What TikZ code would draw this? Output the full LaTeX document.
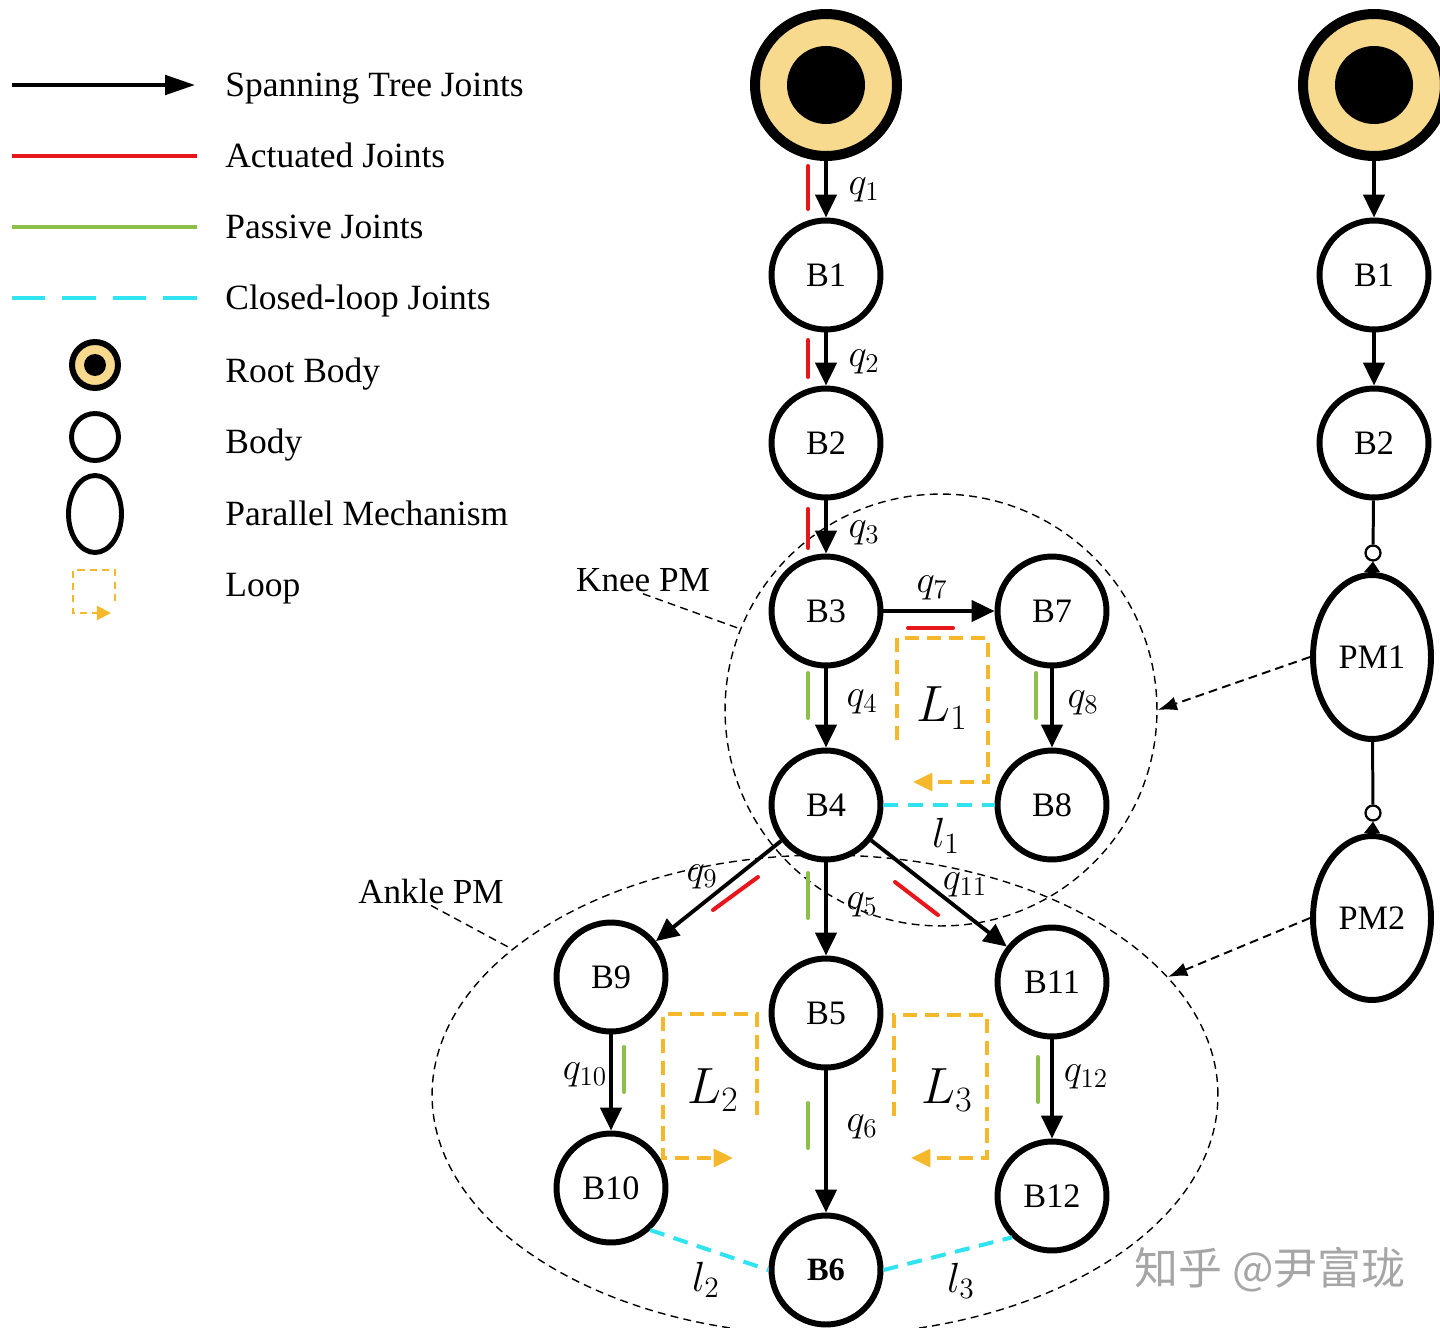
\RequirePackage{fix-cm}
\documentclass[tikz,border=0pt]{standalone}
\usepackage{fontspec}
\setmainfont{Liberation Serif}
\newfontfamily\cjk{Noto Sans CJK SC}
\usetikzlibrary{arrows.meta,shapes.geometric,calc}
\definecolor{rootYellow}{HTML}{F8DA8E}
\definecolor{actRed}{HTML}{E8151B}
\definecolor{pasGreen}{HTML}{8CC04B}
\definecolor{clCyan}{HTML}{2FE3F0}
\definecolor{loopOrange}{HTML}{F5B82A}

\begin{document}
\begin{tikzpicture}[x=0.02cm, y=-0.02cm,
     body/.style={circle, draw, line width=3.4pt, fill=white, minimum size=2.18cm, inner sep=0pt,
                  font=\fontsize{19.5}{22}\selectfont},
     rootbody/.style={circle, draw, line width=5.7pt, fill=rootYellow, minimum size=2.84cm, inner sep=0pt,
                  path picture={\fill[black] (path picture bounding box.center) circle (0.78cm);}},
     pmbody/.style={ellipse, draw, line width=3.4pt, fill=white, minimum width=2.36cm, minimum height=3.28cm,
                  inner sep=0pt, font=\fontsize{19.5}{22}\selectfont},
     jnode/.style={circle, draw, line width=1.3pt, fill=white, minimum size=0.3cm, inner sep=0pt},
     arr/.style={-{Triangle[length=13pt,width=12pt]}, line width=2.2pt},
     link/.style={line width=1.7pt},
     act/.style={draw=actRed, line width=2.3pt, line cap=round},
     pas/.style={draw=pasGreen, line width=2.3pt, line cap=round},
     clj/.style={draw=clCyan, line width=2.3pt, dash pattern=on 8.5pt off 5.5pt},
     loopl/.style={draw=loopOrange, line width=2.3pt, dash pattern=on 8pt off 4.5pt,
                  -{Triangle[length=11pt,width=10pt]}},
     zone/.style={draw, line width=0.8pt, dash pattern=on 4.5pt off 3pt},
     leader/.style={line width=0.8pt, dash pattern=on 4.5pt off 3pt},
     pmarr/.style={line width=1.1pt, dash pattern=on 5pt off 3pt, -{Latex[length=11pt,width=8pt]}},
     jl/.style={font=\fontsize{22}{25}\selectfont, inner sep=1pt},
     ll/.style={font=\fontsize{24}{27}\selectfont, inner sep=1pt},
     bigl/.style={font=\fontsize{29}{32}\selectfont, inner sep=1pt},
     zlbl/.style={font=\fontsize{20}{23}\selectfont, inner sep=1pt},
     legtxt/.style={anchor=base west, font=\fontsize{20.2}{23}\selectfont, inner sep=0pt},
     legarr/.style={-{Triangle[length=17pt,width=11pt]}, line width=2.2pt},
     legroot/.style={circle, draw, line width=3.4pt, fill=rootYellow, minimum size=0.92cm, inner sep=0pt,
                  path picture={\fill[black] (path picture bounding box.center) circle (0.22cm);}},
     legbody/.style={circle, draw, line width=2.8pt, minimum size=0.94cm, inner sep=0pt},
     legpm/.style={ellipse, draw, line width=2.8pt, minimum width=1.06cm, minimum height=1.54cm, inner sep=0pt},
     legloop/.style={draw=loopOrange, line width=1.2pt, dash pattern=on 4pt off 3pt,
                  -{Triangle[length=8pt,width=8pt]}},
     wmark/.style={font=\cjk\fontsize{25}{28}\selectfont, text=black!35}]
  \useasboundingbox (0,0) rectangle (1440,1328);

  % legend
  \coordinate (lgA1) at (12,85);   \coordinate (lgA2) at (195,85);
  \coordinate (lgR1) at (12,156);  \coordinate (lgR2) at (197,156);
  \coordinate (lgG1) at (12,227);  \coordinate (lgG2) at (197,227);
  \coordinate (lgC1) at (12,298);  \coordinate (lgC2) at (197,298);
  \draw[legarr] (lgA1) -- (lgA2);
  \draw[act, line cap=butt, line width=2.2pt] (lgR1) -- (lgR2);
  \draw[pas, line cap=butt, line width=2.2pt] (lgG1) -- (lgG2);
  \draw[clj, dash pattern=on 19pt off 9.7pt] (lgC1) -- (lgC2);
  \node[legroot] (lgRoot) at (95,365) {};
  \node[legbody] (lgBody) at (95,437) {};
  \node[legpm] (lgPM) at (95,514) {};
  \draw[legloop] (115,601) -- (115,570) -- (73,570) -- (73,613) -- (111,613);
  \node[legtxt] (lgT1) at (225,96) {Spanning Tree Joints};
  \node[legtxt] (lgT2) at (225,167) {Actuated Joints};
  \node[legtxt] (lgT3) at (225,238) {Passive Joints};
  \node[legtxt] (lgT4) at (225,309) {Closed-loop Joints};
  \node[legtxt] (lgT5) at (225,382) {Root Body};
  \node[legtxt] (lgT6) at (225,453) {Body};
  \node[legtxt] (lgT7) at (225,525) {Parallel Mechanism};
  \node[legtxt] (lgT8) at (225,596) {Loop};

  % parallel mechanism zones
  \node[zone, circle, minimum size=8.64cm] (knee) at (941,710) {};
  \node[zone, ellipse, minimum width=15.72cm, minimum height=9.6cm] (ankle) at (825,1095) {};
  \node[zlbl] (kneelbl) at (643,580) {Knee PM};
  \node[zlbl] (anklelbl) at (431,891) {Ankle PM};
  \draw[leader] (kneelbl.south) -- (knee.158);
  \draw[leader] (anklelbl.south) -- (ankle.155);

  % main tree
  \node[rootbody] (R1) at (826,85) {};
  \node[body] (B1) at (826,275) {B1};
  \node[body] (B2) at (826,443) {B2};
  \node[body] (B3) at (826,611) {B3};
  \node[body] (B4) at (826,805) {B4};
  \node[body] (B7) at (1052,611) {B7};
  \node[body] (B8) at (1052,805) {B8};
  \node[body] (B9) at (611,977) {B9};
  \node[body] (B5) at (826,1013) {B5};
  \node[body] (B11) at (1052,982) {B11};
  \node[body] (B10) at (611,1188) {B10};
  \node[body] (B12) at (1052,1196) {B12};
  \node[body, font=\bfseries\fontsize{18.5}{22}\selectfont] (B6) at (826,1270) {B6};

  \draw[arr] (R1) -- (B1);
  \draw[arr] (B1) -- (B2);
  \draw[arr] (B2) -- (B3);
  \draw[arr] (B3) -- (B7);
  \draw[arr] (B3) -- (B4);
  \draw[arr] (B7) -- (B8);
  \draw[arr] (B4) -- (B9);
  \draw[arr] (B4) -- (B5);
  \draw[arr] (B4) -- (B11);
  \draw[arr] (B9) -- (B10);
  \draw[arr] (B5) -- (B6);
  \draw[arr] (B11) -- (B12);

  \draw[clj] (B4.east) -- (B8.west);
  \draw[clj] (B10.-47) -- (B6.west);
  \draw[clj] (B6.east) -- (B12.-134);

  \draw[act] (808,166) -- (808,209);
  \draw[act] (808,340) -- (808,377);
  \draw[act] (808,509) -- (808,548);
  \draw[act] (908,628) -- (953,628);
  \draw[pas] (808,673) -- (808,718);
  \draw[pas] (1036,673) -- (1036,718);
  \draw[act] (713,910) -- (758,877);
  \draw[pas] (808,873) -- (808,918);
  \draw[act] (895,882) -- (938,915);
  \draw[pas] (624,1047) -- (624,1092);
  \draw[pas] (808,1103) -- (808,1148);
  \draw[pas] (1038,1057) -- (1038,1102);

  \node[jl] (q1) at (864,190) {$q_{1}$};
  \node[jl] (q2) at (864,362) {$q_{2}$};
  \node[jl] (q3) at (864,533) {$q_{3}$};
  \node[jl] (q7) at (932,588) {$q_{7}$};
  \node[jl] (q4) at (862,702) {$q_{4}$};
  \node[jl] (q8) at (1083,703) {$q_{8}$};
  \node[jl] (q9) at (702,877) {$q_{9}$};
  \node[jl] (q5) at (862,905) {$q_{5}$};
  \node[jl] (q11) at (965,885) {$q_{11}$};
  \node[jl] (q10) at (585,1075) {$q_{10}$};
  \node[jl] (q6) at (862,1127) {$q_{6}$};
  \node[jl] (q12) at (1086,1077) {$q_{12}$};
  \node[ll] (l1) at (946,836) {$l_{1}$};
  \node[ll] (l2) at (706,1280) {$l_{2}$};
  \node[ll] (l3) at (961,1281) {$l_{3}$};

  \draw[loopl] (897,740) -- (897,638) -- (988,638) -- (988,782) -- (913,782);
  \draw[loopl] (757,1115) -- (757,1014) -- (663,1014) -- (663,1158) -- (733,1158);
  \draw[loopl] (894,1116) -- (894,1015) -- (987,1015) -- (987,1158) -- (911,1158);
  \node[bigl] (L1) at (942,708) {$L_{1}$};
  \node[bigl] (L2) at (713,1090) {$L_{2}$};
  \node[bigl] (L3) at (947,1090) {$L_{3}$};

  % reduced tree
  \node[rootbody] (R2) at (1374,85) {};
  \node[body] (B1r) at (1374,275) {B1};
  \node[body] (B2r) at (1374,443) {B2};
  \node[pmbody] (PM1) at (1372,657) {PM1};
  \node[pmbody] (PM2) at (1372,918) {PM2};
  \node[jnode] (j1) at (1373,553) {};
  \node[jnode] (j2) at (1373,813) {};
  \draw[arr] (R2) -- (B1r);
  \draw[arr] (B1r) -- (B2r);
  \draw[link] (B2r) -- (j1);
  \draw[link] (PM1) -- (j2);
  \fill (j1.south) -- ($(PM1.north)+(-8,0)$) -- ($(PM1.north)+(8,0)$) -- cycle;
  \fill (j2.south) -- ($(PM2.north)+(-8,0)$) -- ($(PM2.north)+(8,0)$) -- cycle;
  \draw[pmarr] (PM1.west) -- (knee.east);
  \draw[pmarr] (PM2.west) -- (ankle.19);

  \node[wmark] (wm) at (1270,1270) {知乎 @尹富珑};
\end{tikzpicture}
\end{document}
